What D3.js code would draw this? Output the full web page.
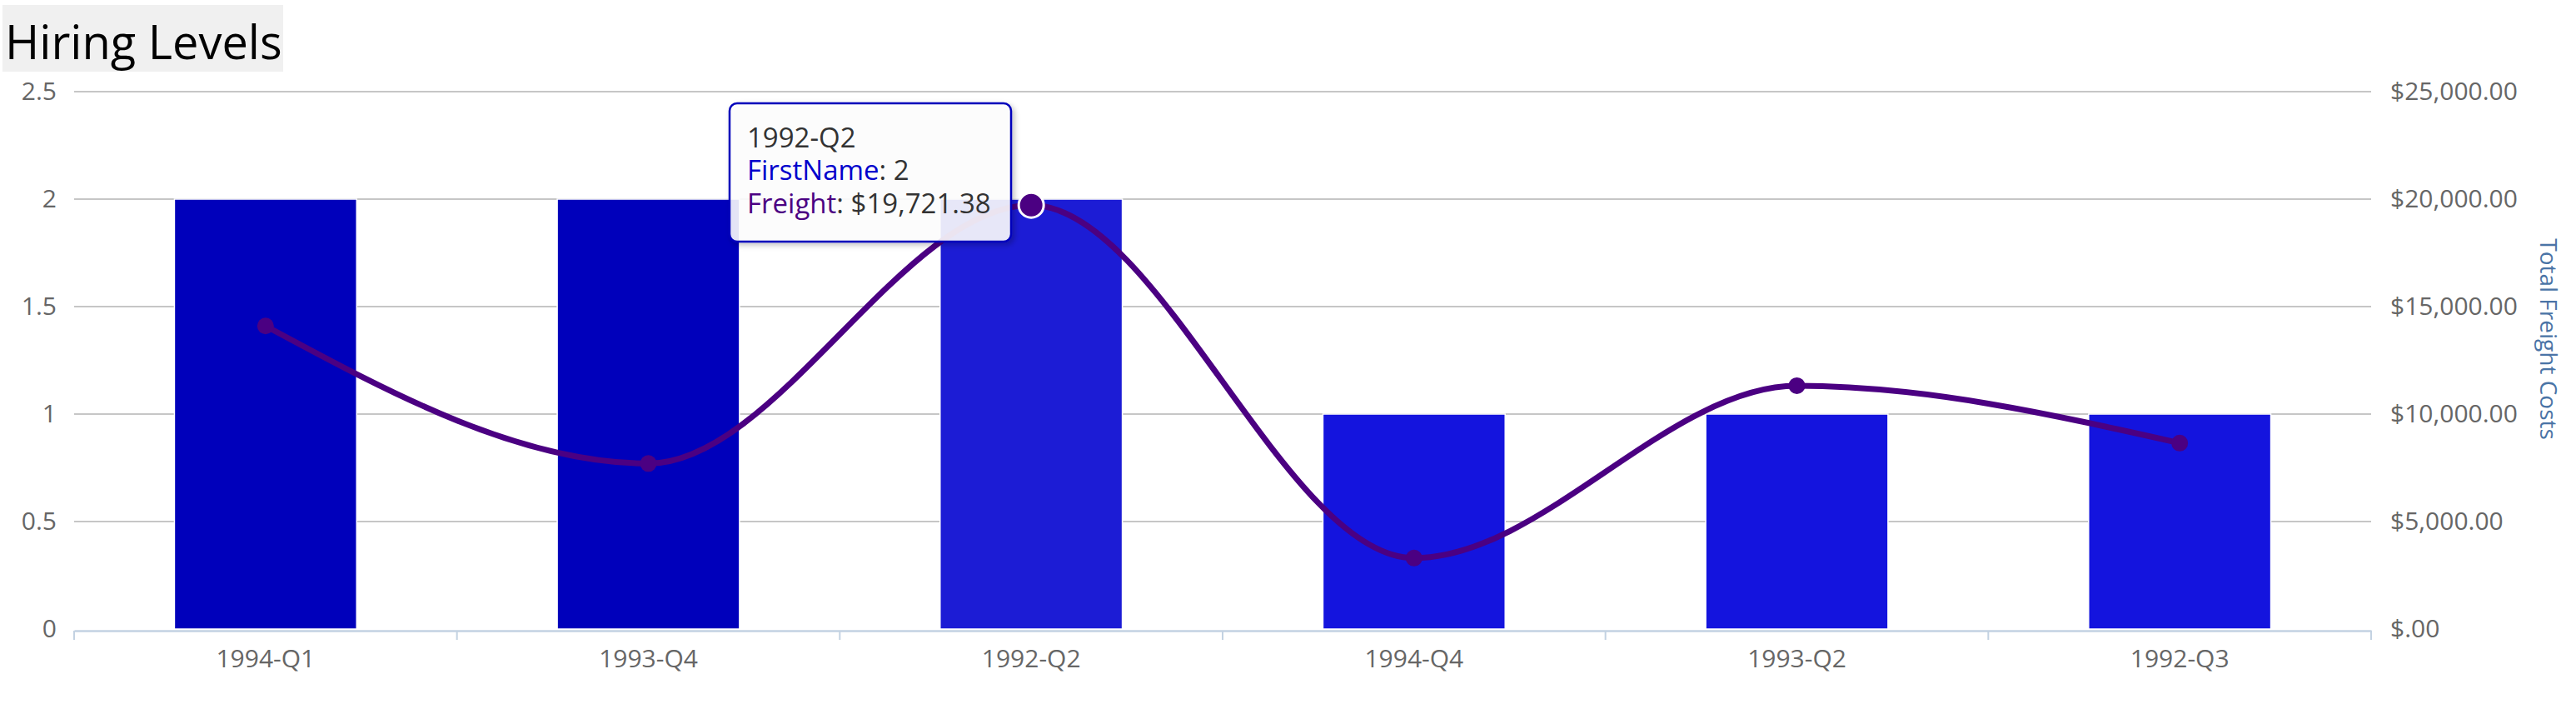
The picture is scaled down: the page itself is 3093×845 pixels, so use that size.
<!DOCTYPE html>
<html>
<head>
    <meta charset="utf-8">
    <title>Hiring Levels</title>
    <script src="https://d3js.org/d3.v7.min.js"></script>
    <style>
        body { margin: 0; background: #fff; }
        svg text { font-family: "Open Sans", "Noto Sans", sans-serif; }
    </style>
</head>
<body>
<svg id="chart" width="3093" height="845"></svg>

<script>
// data
const quarters = ["1994-Q1", "1993-Q4", "1992-Q2", "1994-Q4", "1993-Q2", "1992-Q3"];
const firstNameCounts = [2, 2, 2, 1, 1, 1];
const freightTotals = [14100, 7700, 19721.38, 3300, 11320, 8650];
const countTicks = [0, 0.5, 1, 1.5, 2, 2.5];
const freightTicks = [0, 5000, 10000, 15000, 20000, 25000];
const hoverIndex = 2;   // the category the tooltip is showing

const svg = d3.select("#chart");
const margin = { top: 110, right: 246, bottom: 90, left: 89 };
const width = +svg.attr("width") - margin.left - margin.right;
const height = +svg.attr("height") - margin.top - margin.bottom;

const money = d3.format("$,.2f");
const moneyTick = v => v === 0 ? "$.00" : money(v);

// scales
const x = d3.scaleBand().domain(quarters).range([margin.left, margin.left + width]).paddingInner(0).paddingOuter(0);
const yCount = d3.scaleLinear().domain([0, 2.5]).range([margin.top + height, margin.top]);
const yFreight = d3.scaleLinear().domain([0, 25000]).range([margin.top + height, margin.top]);
const barColor = (v, i) => i === hoverIndex ? "#1c1cd5" : (v >= 2 ? "#0000bb" : "#1414de");

// drop shadow for the tooltip
const defs = svg.append("defs");
const f = defs.append("filter").attr("id", "shadow").attr("x", "-10%").attr("y", "-10%").attr("width", "130%").attr("height", "140%");
f.append("feDropShadow").attr("dx", 3).attr("dy", 3).attr("stdDeviation", 3).attr("flood-color", "#000").attr("flood-opacity", 0.25);

// title
svg.append("rect").attr("x", 3).attr("y", 6).attr("width", 337).attr("height", 80).attr("fill", "#f0f0f0");
svg.append("text").attr("x", 6).attr("y", 71).attr("font-size", 56).attr("fill", "#000").text("Hiring Levels");

// gridlines
svg.append("g").selectAll("line").data(countTicks.slice(1)).join("line")
    .attr("x1", margin.left).attr("x2", margin.left + width)
    .attr("y1", d => yCount(d)).attr("y2", d => yCount(d))
    .attr("stroke", "#c6c6c6").attr("stroke-width", 2);

// left axis (count)
const leftAxis = svg.append("g")
    .attr("transform", "translate(" + (margin.left - 21) + ",0)")
    .call(d3.axisLeft(yCount).tickValues(countTicks).tickFormat(d => String(d)).tickSize(0).tickPadding(0));
leftAxis.select(".domain").remove();
leftAxis.selectAll("text").attr("font-size", 30).attr("fill", "#666").attr("font-family", null);

// right axis (freight)
const rightAxis = svg.append("g")
    .attr("transform", "translate(" + (margin.left + width + 23) + ",0)")
    .call(d3.axisRight(yFreight).tickValues(freightTicks).tickFormat(moneyTick).tickSize(0).tickPadding(0));
rightAxis.select(".domain").remove();
rightAxis.selectAll("text").attr("font-size", 30).attr("fill", "#666").attr("font-family", null);

svg.append("text")
    .attr("transform", "translate(3050,407) rotate(90)")
    .attr("text-anchor", "middle")
    .attr("font-size", 28)
    .attr("fill", "#4a74a6")
    .text("Total Freight Costs");

// bars
const barW = x.bandwidth() * 0.476;
svg.append("g").selectAll("rect").data(firstNameCounts).join("rect")
    .attr("x", (d, i) => x(quarters[i]) + (x.bandwidth() - barW) / 2)
    .attr("y", d => yCount(d))
    .attr("width", barW)
    .attr("height", d => yCount(0) - yCount(d))
    .attr("fill", (d, i) => barColor(d, i))
    .attr("stroke", "#fff").attr("stroke-width", 1.5);

// bottom axis
const bottomAxis = svg.append("g")
    .attr("transform", "translate(0," + (margin.top + height + 2) + ")")
    .call(d3.axisBottom(x).tickSize(0).tickPadding(23));
bottomAxis.select(".domain").attr("stroke", "#c3d2e2").attr("stroke-width", 2.5);
bottomAxis.selectAll("text").attr("font-size", 30).attr("fill", "#666").attr("font-family", null);
svg.append("g").selectAll("line").data(d3.range(quarters.length + 1)).join("line")
    .attr("x1", i => margin.left + i * x.step()).attr("x2", i => margin.left + i * x.step())
    .attr("y1", margin.top + height + 2).attr("y2", margin.top + height + 13)
    .attr("stroke", "#c3d2e2").attr("stroke-width", 2);

// freight line
const pts = freightTotals.map((v, i) => [x(quarters[i]) + x.bandwidth() / 2, yFreight(v)]);
const line = d3.line().curve(d3.curveMonotoneX);
svg.append("path")
    .attr("d", line(pts))
    .attr("fill", "none")
    .attr("stroke", "#4b0082")
    .attr("stroke-width", 7)
    .attr("stroke-linejoin", "round");

svg.append("g").selectAll("circle").data(pts).join("circle")
    .attr("cx", d => d[0]).attr("cy", d => d[1])
    .attr("r", (d, i) => i === hoverIndex ? 15 : 10)
    .attr("fill", "#4b0082")
    .attr("stroke", (d, i) => i === hoverIndex ? "#fff" : "none")
    .attr("stroke-width", 3);

// tooltip
const tip = svg.append("g").attr("transform", "translate(876,124)");
tip.append("rect")
    .attr("width", 338).attr("height", 166).attr("rx", 9)
    .attr("fill", "#fff").attr("fill-opacity", 0.88)
    .attr("stroke", "#0000bb").attr("stroke-width", 2.5)
    .attr("filter", "url(#shadow)");
tip.append("text").attr("x", 21).attr("y", 53).attr("font-size", 33).attr("fill", "#333").text(quarters[hoverIndex]);
const t2 = tip.append("text").attr("x", 21).attr("y", 92).attr("font-size", 33);
t2.append("tspan").attr("fill", "#0000cc").text("FirstName");
t2.append("tspan").attr("fill", "#333").text(": " + firstNameCounts[hoverIndex]);
const t3 = tip.append("text").attr("x", 21).attr("y", 132).attr("font-size", 33);
t3.append("tspan").attr("fill", "#4b0082").text("Freight");
t3.append("tspan").attr("fill", "#333").text(": " + money(freightTotals[hoverIndex]));
</script>
</body>
</html>
